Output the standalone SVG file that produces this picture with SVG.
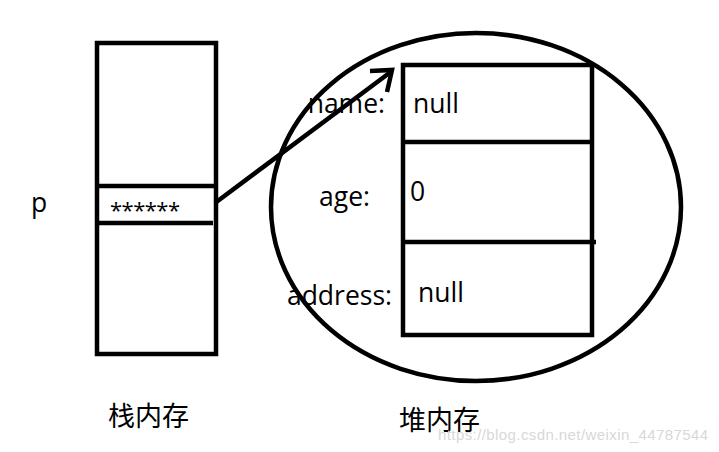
<svg xmlns="http://www.w3.org/2000/svg" width="719" height="452" viewBox="0 0 719 452">
<style>
.s{fill:none;stroke:#000;stroke-width:4.5;stroke-linecap:butt}
.t{font-family:"Open Sans","Noto Sans",sans-serif;font-size:26.5px;fill:#000}
.c{font-family:"Noto Sans CJK SC",sans-serif;font-size:27px;fill:#000}
</style>
<rect width="719" height="452" fill="#fff"/>
<g id="stack">
<rect class="s" x="97" y="43" width="119" height="311"/>
<line class="s" x1="97" y1="186" x2="216" y2="186"/>
<line class="s" x1="97" y1="223" x2="213" y2="223"/>
<text class="t" x="110" y="218" textLength="70" style="font-size:22px">******</text>
</g>
<g id="p-label"><text class="t" x="31" y="212">p</text></g>
<g id="heap">
<ellipse class="s" cx="476" cy="207" rx="205" ry="174"/>
<rect class="s" x="403" y="65" width="189" height="270"/>
<line class="s" x1="403" y1="142" x2="592" y2="142"/>
<line class="s" x1="403" y1="242" x2="596" y2="242"/>
<text class="t" x="385" y="113" text-anchor="end">name:</text>
<text class="t" x="413" y="113">null</text>
<text class="t" x="370" y="206" text-anchor="end">age:</text>
<text class="t" x="410" y="201">0</text>
<text class="t" x="392" y="305" text-anchor="end">address:</text>
<text class="t" x="418" y="302">null</text>
</g>
<g id="connectors">
<line class="s" x1="215" y1="203" x2="392" y2="71"/>
<polyline class="s" points="370,71 392,70 387,92"/>
</g>
<g id="labels">
<text class="c" x="108" y="426">栈内存</text>
<text class="c" x="399" y="430">堆内存</text>
<text x="438" y="440" font-family="Liberation Sans,Arial,sans-serif" font-size="15" fill="#d8d8d8" textLength="270">https://blog.csdn.net/weixin_44787544</text>
</g>
</svg>
